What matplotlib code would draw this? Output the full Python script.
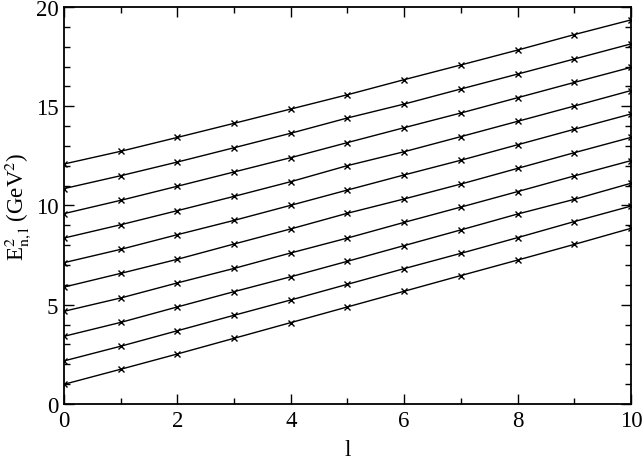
import matplotlib
matplotlib.use("Agg")
import matplotlib.pyplot as plt
from matplotlib.ticker import MultipleLocator

# orbital quantum number l
l_vals = [0, 1, 2, 3, 4, 5, 6, 7, 8, 9, 10]

# E^2_{n,l} (GeV^2), one list per radial n (bottom to top)
n1 = [0.99, 1.75, 2.52, 3.31, 4.10, 4.89, 5.68, 6.47, 7.25, 8.04, 8.85]
n2 = [2.17, 2.91, 3.69, 4.47, 5.24, 6.03, 6.82, 7.59, 8.38, 9.19, 9.97]
n3 = [3.41, 4.11, 4.89, 5.66, 6.41, 7.19, 7.98, 8.77, 9.57, 10.31, 11.12]
n4 = [4.67, 5.34, 6.10, 6.83, 7.61, 8.36, 9.15, 9.92, 10.70, 11.49, 12.26]
n5 = [5.89, 6.58, 7.29, 8.06, 8.82, 9.61, 10.33, 11.08, 11.87, 12.66, 13.43]
n6 = [7.12, 7.79, 8.53, 9.25, 10.01, 10.78, 11.54, 12.28, 13.06, 13.84, 14.61]
n7 = [8.36, 9.03, 9.74, 10.46, 11.20, 12.01, 12.71, 13.47, 14.24, 15.01, 15.79]
n8 = [9.59, 10.26, 10.97, 11.69, 12.41, 13.17, 13.92, 14.66, 15.43, 16.20, 16.96]
n9 = [10.85, 11.50, 12.19, 12.91, 13.64, 14.41, 15.11, 15.87, 16.62, 17.38, 18.14]
n10 = [12.09, 12.73, 13.43, 14.14, 14.86, 15.58, 16.34, 17.08, 17.83, 18.61, 19.35]

series = [n1, n2, n3, n4, n5, n6, n7, n8, n9, n10]

plt.rcParams["font.family"] = ["Liberation Serif", "DejaVu Serif"]
plt.rcParams["mathtext.fontset"] = "stix"

fig = plt.figure(figsize=(6.43, 4.60), dpi=100)
ax = fig.add_axes([0.0995, 0.1196, 0.8818, 0.863])

for ys in series:
    ax.plot(l_vals, ys, color="black", lw=1.0, marker="x", ms=4, mew=1.0)

ax.set_xlim(0, 10)
ax.set_ylim(0, 20)
ax.xaxis.set_major_locator(MultipleLocator(2))
ax.xaxis.set_minor_locator(MultipleLocator(1))
ax.yaxis.set_major_locator(MultipleLocator(5))
ax.yaxis.set_minor_locator(MultipleLocator(1))
ax.tick_params(which="both", direction="in", top=True, right=True,
               labelsize=16.5, width=1.0)
ax.tick_params(which="major", length=7.5)
ax.tick_params(axis="x", which="major", pad=4)
ax.tick_params(axis="y", which="major", pad=4)
ax.tick_params(which="minor", length=4)
for s in ax.spines.values():
    s.set_linewidth(1.3)

ax.set_xlabel("l", fontsize=16.5)
ax.xaxis.set_label_coords(0.5, -0.088)
ax.set_ylabel(r"E$^2_{\rm n,l}$ (GeV$^2$)", fontsize=16.5)
ax.yaxis.set_label_coords(-0.052, 0.5)

fig.savefig("out.png", dpi=100)
